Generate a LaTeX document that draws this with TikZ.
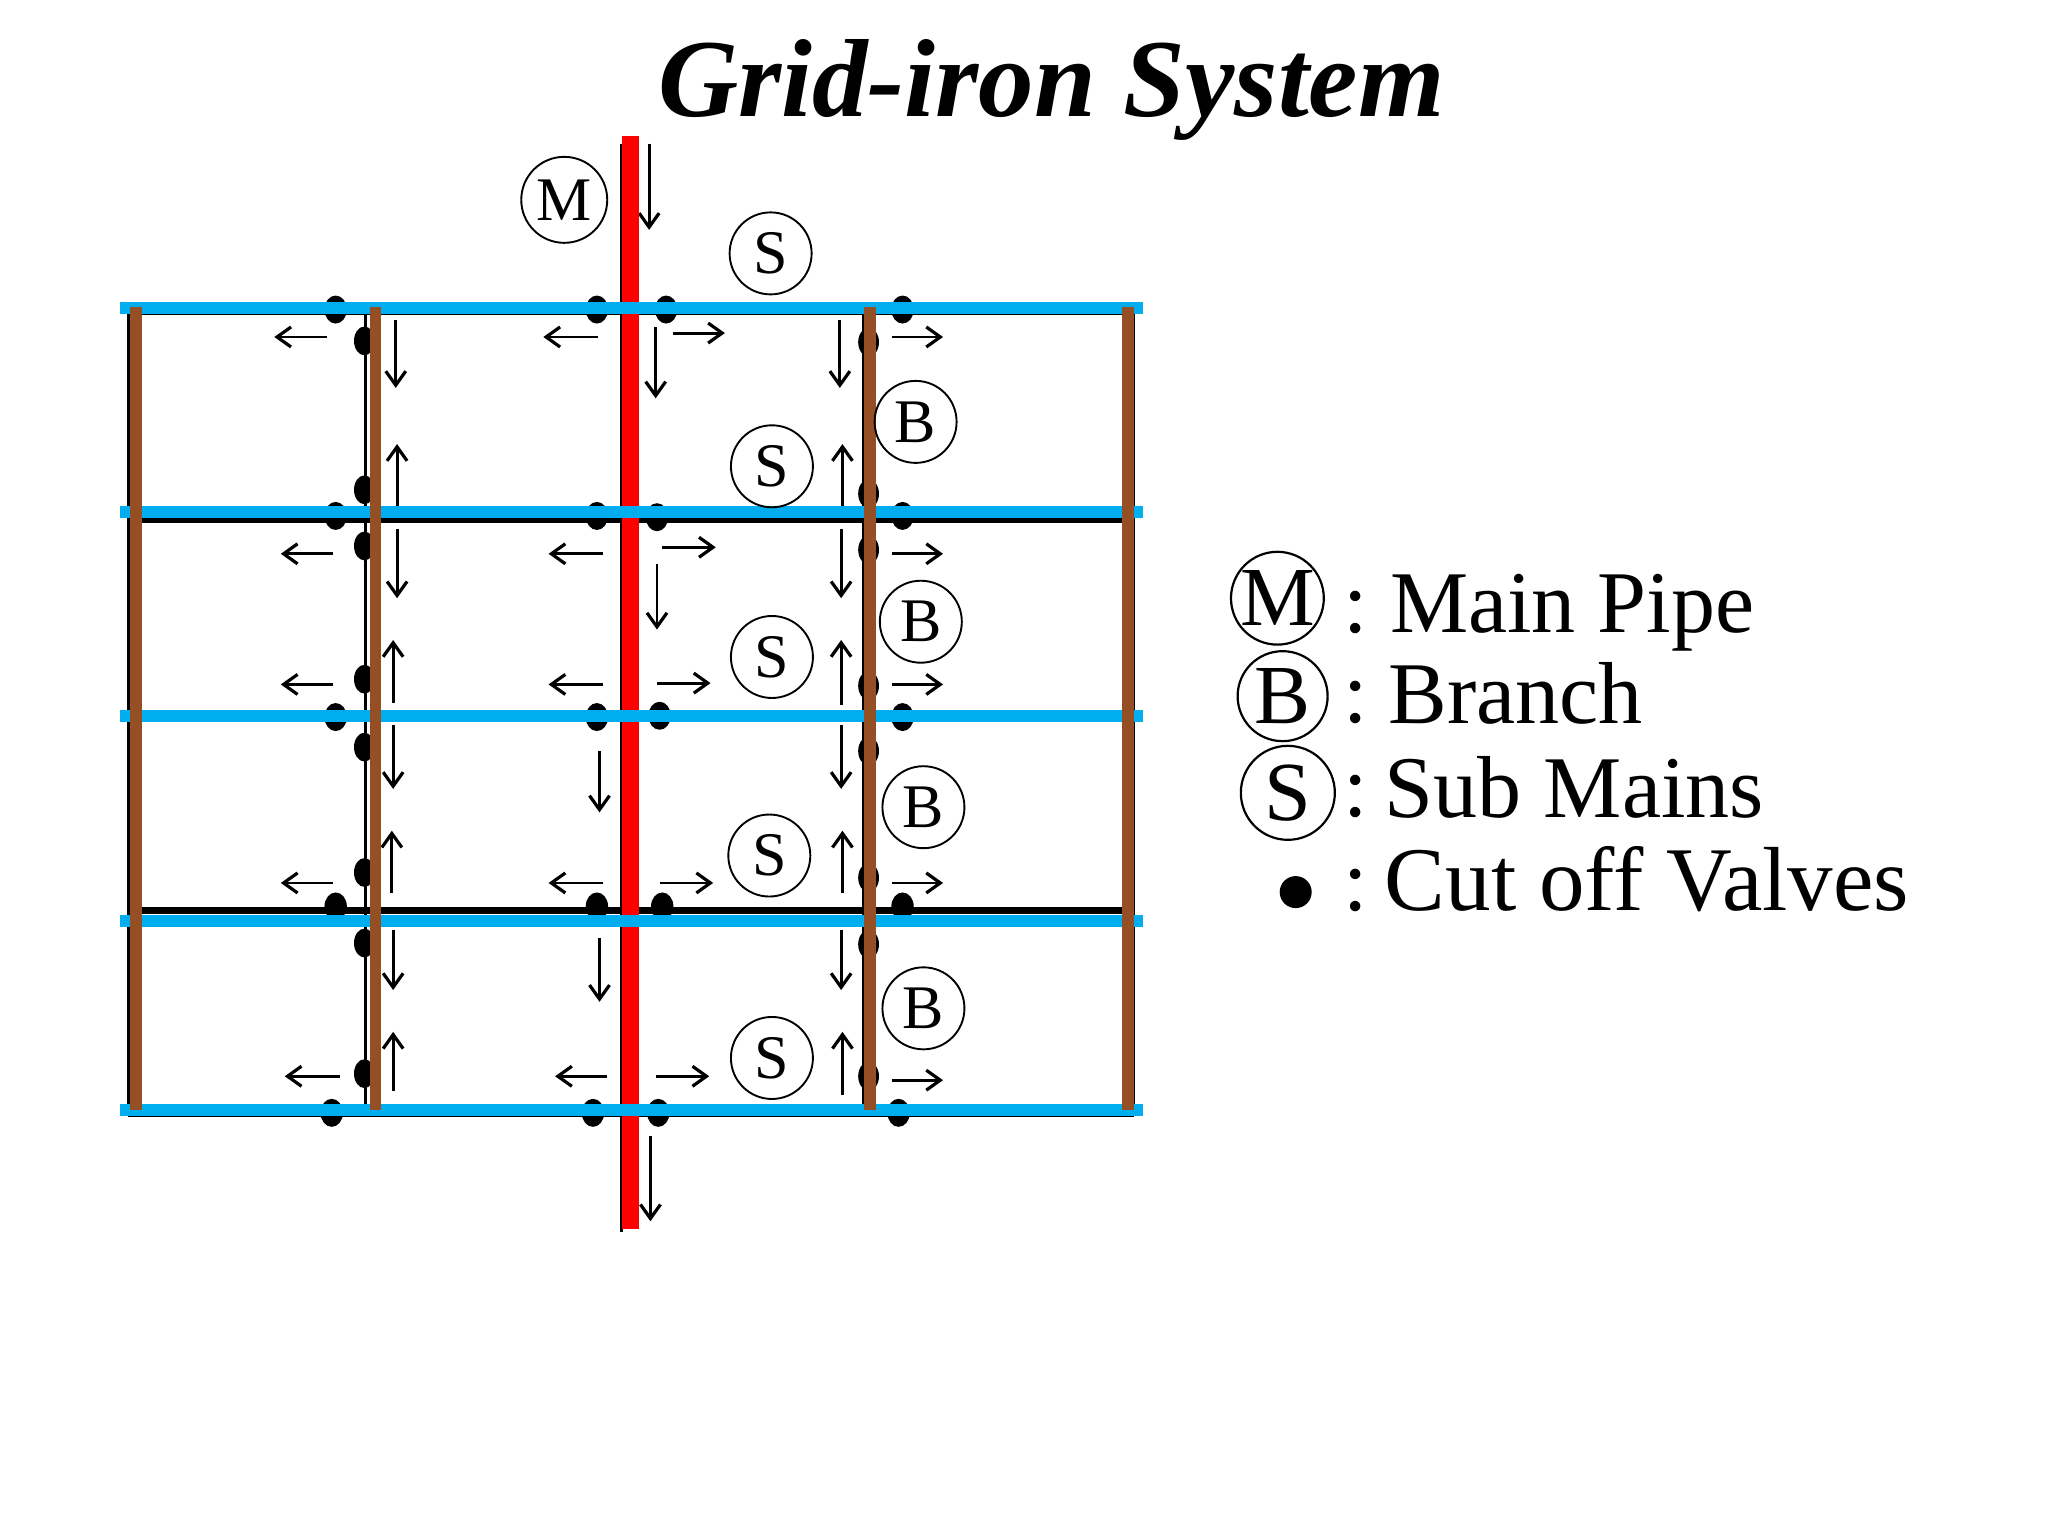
\documentclass[tikz,border=0pt]{standalone}
\usepackage{fontspec}
\setmainfont{Liberation Serif}
\usetikzlibrary{arrows.meta}
\definecolor{pipeblue}{HTML}{00ADEF}
\definecolor{pipebrown}{HTML}{954F24}
\definecolor{pipered}{HTML}{FF0000}
\tikzset{
  x=0.65306pt,y=-0.65306pt,
  flow/.style={black,line width=1.45pt,-{Straight Barb[length=7pt,width=10pt,line width=1.6pt]}},
  tag/.style={circle,draw=black,line width=0.95pt,inner sep=0pt,font=\fontsize{31}{31}\selectfont},
  keytag/.style={circle,draw=black,line width=1.1pt,inner sep=0pt,font=\fontsize{42}{42}\selectfont},
  keytext/.style={anchor=base west,inner sep=0pt,font=\fontsize{44}{44}\selectfont},
  thinback/.style={black,line width=1.5pt},
  mainpipe/.style={pipered,line width=8.6pt},
  submain/.style={pipeblue,line width=6pt},
  branchpipe/.style={pipebrown,line width=5.8pt}
}
\begin{document}
\begin{tikzpicture}
\useasboundingbox (0,0) rectangle (1568,1176);
% thin black drawing underneath
\foreach \xx in {98,280,476,661,868}
  \draw[thinback] (\xx,240) -- (\xx,854);
\draw[thinback] (476,110) -- (476,943);
\draw[thinback] (98,240) -- (868,240);
\draw[thinback] (98,545) -- (868,545);
\draw[thinback] (98,854) -- (868,854);
\draw[black,line width=3.4pt] (98,398) -- (868,398);
\draw[black,line width=3.4pt] (98,697) -- (868,697);
% valves
\foreach \xx/\yy in {257/237,457/237,510/237,691/237,
    257/395,457/395,503/396,691/395,
    257/549,457/549,505/548,691/549,
    257/694,457/694,507/694,691/694,
    254/852,454/852,504/852,688/852}
  \fill (\xx,\yy) ellipse (5.6pt and 7pt);
\foreach \xx/\yy in {279/261,665/262,279/375,665/378,
    279/418,665/421,279/520,665/525,
    279/572,665/575,279/668,665/672,
    279/722,665/723,279/822,665/824}
  \fill (\xx,\yy) ellipse (5.2pt and 7.2pt);
% flow arrows
\foreach \xa/\ya/\xb/\yb in {
  497/110/497/176,
  250/258/210/258, 458/258/416/258, 515/255/555/255, 683/258/722/258,
  303/245/303/297, 502/250/502/305, 643/245/643/297,
  304/388/304/340, 645/388/645/340,
  255/424/215/424, 462/424/420/424, 507/419/548/419, 683/424/722/424,
  304/405/304/458, 503/432/503/482, 644/405/644/458,
  301/538/301/490, 644/540/644/490,
  255/524/215/524, 462/524/420/524, 503/523/544/523, 683/524/722/524,
  301/555/301/604, 459/575/459/622, 644/555/644/604,
  300/684/300/636, 645/684/645/636,
  255/676/215/676, 462/676/420/676, 505/676/546/676, 683/676/722/676,
  301/712/301/758, 459/718/459/767, 644/712/644/758,
  301/835/301/790, 645/838/645/790,
  260/824/218/824, 465/824/425/824, 502/824/543/824, 683/827/722/827,
  498/870/498/935}
  \draw[flow] (\xa,\ya) -- (\xb,\yb);
% coloured pipes
\draw[mainpipe] (483,104) -- (483,941);
\foreach \yy in {236,392,548,705,850}
  \draw[submain] (92,\yy) -- (875,\yy);
\foreach \xx in {104,287.5,666,863.5}
  \draw[branchpipe] (\xx,235) -- (\xx,850);
% circled labels
\node[tag,minimum size=43pt] (tagM) at (432,153) {M};
\node[tag,minimum size=41pt] (tagS1) at (590,194) {S};
\node[tag,minimum size=41pt] (tagS2) at (591,357) {S};
\node[tag,minimum size=41pt] (tagS3) at (591,503) {S};
\node[tag,minimum size=41pt] (tagS4) at (589,655) {S};
\node[tag,minimum size=41pt] (tagS5) at (591,810) {S};
\node[tag,minimum size=41pt] (tagB1) at (701,323) {B};
\node[tag,minimum size=41pt] (tagB2) at (705,476) {B};
\node[tag,minimum size=41pt] (tagB3) at (707,618) {B};
\node[tag,minimum size=41pt] (tagB4) at (707,772) {B};
% title
\node[anchor=base,inner sep=0pt,font=\fontsize{55.5}{55.5}\selectfont\bfseries\itshape] (title) at (805,89) {Grid-iron System};
% legend
\node[keytag,minimum size=45pt] (keyM) at (978,458) {M};
\node[keytag,minimum size=45pt] (keyB) at (982,533) {B};
\node[keytag,minimum size=47pt] (keyS) at (986,607) {S};
\fill (992,683) circle (8pt);
\node[keytext] (colM) at (1028,484) {:};
\node[keytext] (colB) at (1028,553) {:};
\node[keytext] (colS) at (1028,625) {:};
\node[keytext] (colV) at (1028,697) {:};
\node[keytext] (txtM) at (1064,484) {Main Pipe};
\node[keytext] (txtB) at (1063,554) {Branch};
\node[keytext] (txtS) at (1060,626) {Sub Mains};
\node[keytext,font=\fontsize{45.5}{45.5}\selectfont] (txtV) at (1060,697) {Cut off Valves};
\end{tikzpicture}
\end{document}
